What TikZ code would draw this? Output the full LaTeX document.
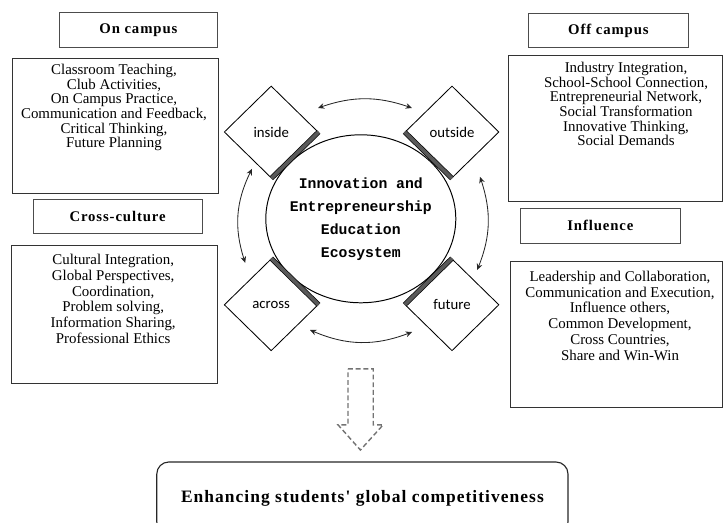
\documentclass[tikz,border=0pt]{standalone}
\usepackage{fontspec}
\setmainfont{Liberation Serif}
\newfontfamily\headfont[LetterSpace=6]{Liberation Serif}
\newfontfamily\ecofont{Liberation Mono}
\newfontfamily\tagfont{Carlito}
\usetikzlibrary{shapes.geometric,arrows.meta}

\tikzset{
	headbox/.style={draw=black!70, line width=0.7pt, minimum height=0.85cm, inner sep=0pt, font=\headfont\bfseries\fontsize{10.5}{12}\selectfont},
	listbox/.style={draw=black!80, line width=0.7pt, inner sep=0pt},
	listtext/.style={anchor=north, align=center, inner sep=0pt, font=\fontsize{10.6}{10.4}\selectfont},
	widetext/.style={listtext, font=\fontsize{10.6}{11.2}\selectfont},
	tagbox/.style={diamond, draw=black, fill=white, line width=0.6pt, minimum width=2.35cm, minimum height=2.3cm, inner sep=0pt, font=\tagfont\fontsize{10.5}{12}\selectfont},
	seam/.style={draw=black, line width=0.5pt, double=black!65, double distance=2.6pt},
	cyclearrow/.style={draw=black!85, line width=0.6pt, {Stealth[length=4.5pt,width=4pt]}-{Stealth[length=4.5pt,width=4pt]}},
	hollowarrow/.style={draw=black!55, line width=1pt, dash pattern=on 3.5pt off 2pt},
}

\begin{document}
\begin{tikzpicture}
	\useasboundingbox (0.00,0.00) rectangle (18.075,13.05);
	% four labelled groups
	\node[headbox, minimum width=3.93cm] (oncampus) at (3.46,12.30) {On campus};
	\node[listbox, minimum width=5.15cm, minimum height=3.38cm] (onlist) at (2.88,9.91) {};
	\node[listtext] (ontext) at (2.85,11.45) {Classroom Teaching,\\Club Activities,\\On Campus Practice,\\Communication and Feedback,\\Critical Thinking,\\Future Planning};
	\node[headbox, minimum width=4.23cm] (cross) at (2.94,7.63) {Cross-culture};
	\node[listbox, minimum width=5.13cm, minimum height=3.45cm] (crosslist) at (2.86,5.18) {};
	\node[widetext] (crosstext) at (2.83,6.70) {Cultural Integration,\\Global Perspectives,\\Coordination,\\Problem solving,\\Information Sharing,\\Professional Ethics};
	\node[headbox, minimum width=3.98cm] (offcampus) at (15.21,12.28) {Off campus};
	\node[listbox, minimum width=5.35cm, minimum height=3.65cm] (offlist) at (15.38,9.83) {};
	\node[listtext] (offtext) at (15.65,11.50) {Industry Integration,\\School-School Connection,\\Entrepreneurial Network,\\Social Transformation\\Innovative Thinking,\\Social Demands};
	\node[headbox, minimum width=3.98cm, minimum height=0.88cm] (influence) at (15.01,7.41) {Influence};
	\node[listbox, minimum width=5.30cm, minimum height=3.65cm] (inflist) at (15.40,4.68) {};
	\node[widetext] (inftext) at (15.50,6.28) {Leadership and Collaboration,\\Communication and Execution,\\Influence others,\\Common Development,\\Cross Countries,\\Share and Win-Win};
	% ecosystem in the middle
	\node[ellipse, draw=black, line width=0.7pt, minimum width=4.75cm, minimum height=4.20cm] (eco) at (9.02,7.58) {};
	\node[align=center, inner sep=0pt, font=\ecofont\bfseries\fontsize{10.5}{16.4}\selectfont] (ecotext) at (eco.center) {Innovation and\\Entrepreneurship\\Education\\Ecosystem};
	\node[tagbox] (inside) at (6.78,9.75) {inside};
	\node[tagbox] (outside) at (11.30,9.75) {outside};
	\node[tagbox] (across) at (6.78,5.43) {across};
	\node[tagbox] (future) at (11.30,5.43) {future};
	\draw[seam] (inside.east) -- (inside.south);
	\draw[seam] (outside.west) -- (outside.south);
	\draw[seam] (across.north) -- (across.east);
	\draw[seam] (future.west) -- (future.north);
	% arrows between the four corners
	\coordinate (ta) at (7.95,10.35);
	\coordinate (tb) at (10.30,10.35);
	\coordinate (ba) at (7.75,4.80);
	\coordinate (bb) at (10.30,4.75);
	\coordinate (la) at (6.30,8.83);
	\coordinate (lb) at (6.13,6.48);
	\coordinate (ra) at (12.00,8.63);
	\coordinate (rb) at (11.93,6.30);
	\draw[cyclearrow] (ta) to[bend left=19] (tb);
	\draw[cyclearrow] (ba) to[bend right=22] (bb);
	\draw[cyclearrow] (la) to[bend right=22] (lb);
	\draw[cyclearrow] (ra) to[bend left=20] (rb);
	% outcome
	\draw[hollowarrow] (8.70,3.83) -- (9.33,3.83) -- (9.33,2.43) -- (9.58,2.43) -- (9.01,1.80) -- (8.45,2.43) -- (8.70,2.43) -- cycle;
	\node[draw=black!85, line width=0.8pt, rounded corners=0.3cm, minimum width=10.28cm, minimum height=1.80cm, font=\headfont\bfseries\fontsize{12.4}{15}\selectfont] (goal) at (9.06,0.60) {Enhancing students' global competitiveness};
\end{tikzpicture}
\end{document}
